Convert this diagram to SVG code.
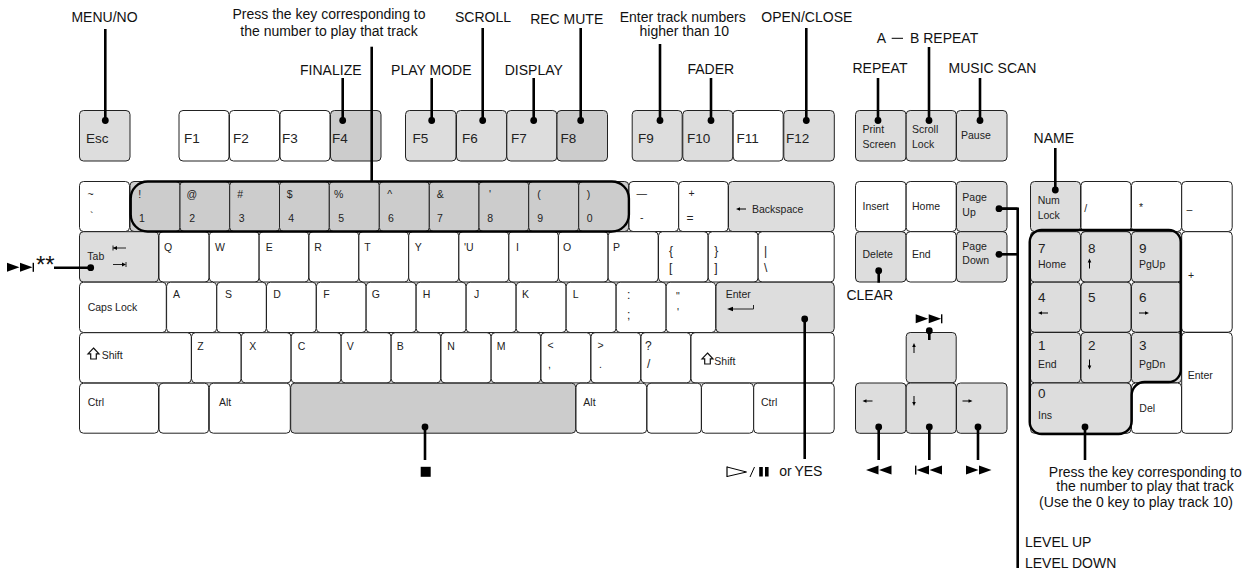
<svg xmlns="http://www.w3.org/2000/svg" width="1255" height="571" viewBox="0 0 1255 571">
<style>
text{font-family:"Liberation Sans",Arial,sans-serif;fill:#222}
.l{font-size:14px;fill:#111}
.c{text-anchor:middle}
.f{font-size:13.5px}
.k{font-size:10.5px}
.s{font-size:10.5px}
.b{font-size:12px}
.n{font-size:13.5px}
rect{stroke:#222;stroke-width:1}
.w{fill:#fff}.g{fill:#ddd}.d{fill:#ccc}
.lead{stroke:#000;stroke-width:2.6;fill:none;marker-end:url(#dot)}
.plain{stroke:#000;stroke-width:2.6;fill:none}
.out{stroke:#000;stroke-width:2.4;fill:none}
.ic{fill:#000;stroke:none}
.thin{stroke:#222;stroke-width:1;fill:none}
</style>
<defs>
<marker id="dot" markerUnits="userSpaceOnUse" markerWidth="8" markerHeight="8" refX="4" refY="4" orient="auto"><circle cx="4" cy="4" r="3.4" fill="#000"/></marker>
<path id="left" d="M0 0l4-1.8v1.3h6v1h-6v1.3z" class="ic"/>
<path id="right" d="M10 0l-4-1.8v1.3h-6v1h6v1.3z" class="ic"/>
<path id="up" d="M0 0l-1.8 4h1.3v6h1v-6h1.3z" class="ic"/>
<path id="down" d="M0 10l-1.8-4h1.3v-6h1v6h1.3z" class="ic"/>
<path id="shift" d="M5.5 0L11 5.8H8.3V11H2.7V5.8H0z" fill="#fff" stroke="#111" stroke-width="1.2"/>
<path id="ff" d="M0 0l12.5 4.5L0 9zM13 0l12.5 4.5L13 9z" class="ic"/>
<path id="rw" d="M12.5 0L0 4.5l12.5 4.5zM25.5 0L13 4.5l12.5 4.5z" class="ic"/>
</defs>

<g id="fn-row">
<g id="k-esc"><rect class="g" x="79.5" y="110.5" width="50.5" height="50.5" rx="4"/><text class="f" x="86" y="143">Esc</text></g>
<g id="k-f1"><rect class="w" x="179" y="110.5" width="50" height="50.5" rx="4"/><text class="f" x="184" y="143">F1</text></g>
<g id="k-f2"><rect class="w" x="229.5" y="110.5" width="50" height="50.5" rx="4"/><text class="f" x="233" y="143">F2</text></g>
<g id="k-f3"><rect class="w" x="280" y="110.5" width="50" height="50.5" rx="4"/><text class="f" x="282" y="143">F3</text></g>
<g id="k-f4"><rect class="d" x="330.5" y="110.5" width="50.5" height="50.5" rx="4"/><text class="f" x="332" y="143">F4</text></g>
<g id="k-f5"><rect class="g" x="405.5" y="110.5" width="50.5" height="50.5" rx="4"/><text class="f" x="412.5" y="143">F5</text></g>
<g id="k-f6"><rect class="g" x="456.5" y="110.5" width="50" height="50.5" rx="4"/><text class="f" x="462" y="143">F6</text></g>
<g id="k-f7"><rect class="g" x="506.8" y="110.5" width="50" height="50.5" rx="4"/><text class="f" x="511" y="143">F7</text></g>
<g id="k-f8"><rect class="d" x="557" y="110.5" width="50.5" height="50.5" rx="4"/><text class="f" x="560.5" y="143">F8</text></g>
<g id="k-f9"><rect class="g" x="632.2" y="110.5" width="50" height="50.5" rx="4"/><text class="f" x="638" y="143">F9</text></g>
<g id="k-f10"><rect class="g" x="682.8" y="110.5" width="50" height="50.5" rx="4"/><text class="f" x="687" y="143">F10</text></g>
<g id="k-f11"><rect class="w" x="733.2" y="110.5" width="50" height="50.5" rx="4"/><text class="f" x="736.5" y="143">F11</text></g>
<g id="k-f12"><rect class="g" x="783.8" y="110.5" width="50.5" height="50.5" rx="4"/><text class="f" x="786" y="143">F12</text></g>
<g id="k-prt"><rect class="g" x="855.5" y="110.5" width="50.5" height="50.5" rx="4"/><text class="s" x="862.5" y="132.5">Print</text><text class="s" x="862.5" y="148">Screen</text></g>
<g id="k-scr"><rect class="g" x="906.2" y="110.5" width="50" height="50.5" rx="4"/><text class="s" x="912" y="132.5">Scroll</text><text class="s" x="912" y="148">Lock</text></g>
<g id="k-pause"><rect class="g" x="956.5" y="110.5" width="50.5" height="50.5" rx="4"/><text class="s" x="961" y="139">Pause</text></g>
</g>

<g id="row1">
<g id="k-tilde"><rect class="w" x="79.5" y="181.5" width="50" height="50" rx="4"/><text class="s" x="87.5" y="198">~</text><text class="s" x="90" y="220">`</text></g>
<g id="k-1"><rect class="d" x="130" y="181.5" width="50" height="50" rx="4"/><text class="s" x="138.3" y="198">!</text><text class="s" x="139" y="221.5">1</text></g>
<g id="k-2"><rect class="d" x="180" y="181.5" width="49.7" height="50" rx="4"/><text class="s" x="186.5" y="198">@</text><text class="s" x="189.3" y="221.5">2</text></g>
<g id="k-3"><rect class="d" x="229.7" y="181.5" width="49.8" height="50" rx="4"/><text class="s" x="237.3" y="198">#</text><text class="s" x="238.7" y="221.5">3</text></g>
<g id="k-4"><rect class="d" x="279.5" y="181.5" width="49.8" height="50" rx="4"/><text class="s" x="286.7" y="198">$</text><text class="s" x="288.3" y="221.5">4</text></g>
<g id="k-5"><rect class="d" x="329.3" y="181.5" width="50" height="50" rx="4"/><text class="s" x="334" y="198">%</text><text class="s" x="338.3" y="221.5">5</text></g>
<g id="k-6"><rect class="d" x="379.3" y="181.5" width="50" height="50" rx="4"/><text class="s" x="387.3" y="198">^</text><text class="s" x="388" y="221.5">6</text></g>
<g id="k-7"><rect class="d" x="429.3" y="181.5" width="49.7" height="50" rx="4"/><text class="s" x="436.7" y="198">&amp;</text><text class="s" x="437" y="221.5">7</text></g>
<g id="k-8"><rect class="d" x="479" y="181.5" width="49.7" height="50" rx="4"/><text class="s" x="489" y="198">'</text><text class="s" x="487.3" y="221.5">8</text></g>
<g id="k-9"><rect class="d" x="528.7" y="181.5" width="50" height="50" rx="4"/><text class="s" x="537.3" y="198">(</text><text class="s" x="537.3" y="221.5">9</text></g>
<g id="k-0"><rect class="d" x="578.7" y="181.5" width="50" height="50" rx="4"/><text class="s" x="586.7" y="198">)</text><text class="s" x="586.7" y="221.5">0</text></g>
<g id="k-minus"><rect class="w" x="629" y="181.5" width="49.5" height="50" rx="4"/><text class="k" x="636.5" y="197">—</text><text class="s" x="640" y="221">-</text></g>
<g id="k-eq"><rect class="w" x="678.7" y="181.5" width="49.5" height="50" rx="4"/><text class="k" x="688.5" y="197">+</text><text class="b" x="686.5" y="222">=</text></g>
<g id="k-back"><rect class="g" x="728.5" y="181.5" width="105.8" height="50" rx="4"/><use href="#left" x="736" y="209"/><text class="s" x="752" y="213">Backspace</text></g>
</g>

<g id="row2">
<g id="k-tab"><rect class="g" x="79.5" y="231.7" width="79" height="50.3" rx="4"/><text class="s" x="87.3" y="260">Tab</text><path class="thin" d="M113 248h13M113 245.5v5"/><path class="ic" d="M113 248l4-2v4z"/><path class="thin" d="M113 264.5h12M126 262v5"/><path class="ic" d="M126 264.5l-4-2v4z"/></g>
<g id="k-q"><rect class="w" x="159" y="231.7" width="50" height="50.3" rx="4"/><text class="k" x="164" y="251">Q</text></g>
<g id="k-w"><rect class="w" x="209.3" y="231.7" width="49.7" height="50.3" rx="4"/><text class="k" x="215" y="251">W</text></g>
<g id="k-e"><rect class="w" x="259.2" y="231.7" width="49.5" height="50.3" rx="4"/><text class="k" x="265.7" y="251">E</text></g>
<g id="k-r"><rect class="w" x="309" y="231.7" width="49.7" height="50.3" rx="4"/><text class="k" x="314.3" y="251">R</text></g>
<g id="k-t"><rect class="w" x="358.9" y="231.7" width="49.6" height="50.3" rx="4"/><text class="k" x="364.3" y="251">T</text></g>
<g id="k-y"><rect class="w" x="408.7" y="231.7" width="50" height="50.3" rx="4"/><text class="k" x="414.7" y="251">Y</text></g>
<g id="k-u"><rect class="w" x="458.9" y="231.7" width="49.8" height="50.3" rx="4"/><text class="k" x="464" y="251">'U</text></g>
<g id="k-i"><rect class="w" x="508.9" y="231.7" width="49.4" height="50.3" rx="4"/><text class="k" x="516" y="251">I</text></g>
<g id="k-o"><rect class="w" x="558.5" y="231.7" width="49.5" height="50.3" rx="4"/><text class="k" x="563" y="251">O</text></g>
<g id="k-p"><rect class="w" x="608.2" y="231.7" width="50" height="50.3" rx="4"/><text class="k" x="613" y="251">P</text></g>
<g id="k-lb"><rect class="w" x="658.5" y="231.7" width="49.5" height="50.3" rx="4"/><text class="b" x="669" y="255">{</text><text class="b" x="669" y="272">[</text></g>
<g id="k-rb"><rect class="w" x="708.3" y="231.7" width="49.7" height="50.3" rx="4"/><text class="b" x="714.3" y="255">}</text><text class="b" x="714.3" y="272">]</text></g>
<g id="k-bs"><rect class="w" x="758.2" y="231.7" width="76" height="50.3" rx="4"/><text class="b" x="764" y="255">|</text><text class="b" x="764" y="272">\</text></g>
</g>

<g id="row3">
<g id="k-caps"><rect class="w" x="79.5" y="282.2" width="86.8" height="50.3" rx="4"/><text class="s" x="87.7" y="311">Caps Lock</text></g>
<g id="k-a"><rect class="w" x="166.6" y="282.2" width="50" height="50.3" rx="4"/><text class="k" x="173" y="298">A</text></g>
<g id="k-s"><rect class="w" x="216.8" y="282.2" width="49.5" height="50.3" rx="4"/><text class="k" x="225" y="298">S</text></g>
<g id="k-d"><rect class="w" x="266.5" y="282.2" width="49.7" height="50.3" rx="4"/><text class="k" x="273.3" y="298">D</text></g>
<g id="k-f"><rect class="w" x="316.4" y="282.2" width="49.6" height="50.3" rx="4"/><text class="k" x="323.3" y="298">F</text></g>
<g id="k-g"><rect class="w" x="366.2" y="282.2" width="49.8" height="50.3" rx="4"/><text class="k" x="371.7" y="298">G</text></g>
<g id="k-h"><rect class="w" x="416.2" y="282.2" width="49.8" height="50.3" rx="4"/><text class="k" x="422.7" y="298">H</text></g>
<g id="k-j"><rect class="w" x="466.2" y="282.2" width="49.8" height="50.3" rx="4"/><text class="k" x="474" y="298">J</text></g>
<g id="k-k"><rect class="w" x="516.2" y="282.2" width="49.8" height="50.3" rx="4"/><text class="k" x="522" y="298">K</text></g>
<g id="k-l"><rect class="w" x="566.2" y="282.2" width="49.8" height="50.3" rx="4"/><text class="k" x="572.7" y="298">L</text></g>
<g id="k-semi"><rect class="w" x="616.2" y="282.2" width="49.8" height="50.3" rx="4"/><text class="b" x="627" y="299">:</text><text class="b" x="627" y="319">;</text></g>
<g id="k-quote"><rect class="w" x="666.2" y="282.2" width="49.5" height="50.3" rx="4"/><text class="s" x="676" y="300">"</text><text class="s" x="677" y="316">'</text></g>
<g id="k-enter"><rect class="g" x="716" y="282.2" width="118.2" height="50.3" rx="4"/><text class="s" x="725.7" y="297.5">Enter</text><path class="thin" d="M730 309h23.5v-4"/><path class="ic" d="M727 309l6-2.2v4.4z"/></g>
</g>

<g id="row4">
<g id="k-lshift"><rect class="w" x="79.5" y="332.7" width="111.8" height="50.2" rx="4"/><use href="#shift" x="88" y="348"/><text class="s" x="101.7" y="359.3">Shift</text></g>
<g id="k-z"><rect class="w" x="191.5" y="332.7" width="49.6" height="50.2" rx="4"/><text class="k" x="197.3" y="350">Z</text></g>
<g id="k-x"><rect class="w" x="241.3" y="332.7" width="49.7" height="50.2" rx="4"/><text class="k" x="249.3" y="350">X</text></g>
<g id="k-c"><rect class="w" x="291.2" y="332.7" width="49.8" height="50.2" rx="4"/><text class="k" x="297.7" y="350">C</text></g>
<g id="k-v"><rect class="w" x="341.2" y="332.7" width="49.8" height="50.2" rx="4"/><text class="k" x="346.7" y="350">V</text></g>
<g id="k-b"><rect class="w" x="391.2" y="332.7" width="49.5" height="50.2" rx="4"/><text class="k" x="396.7" y="350">B</text></g>
<g id="k-n"><rect class="w" x="441" y="332.7" width="50" height="50.2" rx="4"/><text class="k" x="447.3" y="350">N</text></g>
<g id="k-m"><rect class="w" x="491.2" y="332.7" width="49.5" height="50.2" rx="4"/><text class="k" x="496.7" y="350">M</text></g>
<g id="k-lt"><rect class="w" x="541" y="332.7" width="49.7" height="50.2" rx="4"/><text class="k" x="547.5" y="349">&lt;</text><text class="s" x="548" y="368">,</text></g>
<g id="k-gt"><rect class="w" x="591" y="332.7" width="49.7" height="50.2" rx="4"/><text class="k" x="597.5" y="349">&gt;</text><text class="s" x="599" y="368">.</text></g>
<g id="k-slash"><rect class="w" x="641" y="332.7" width="49.7" height="50.2" rx="4"/><text class="b" x="645" y="350">?</text><text class="b" x="647" y="368">/</text></g>
<g id="k-rshift"><rect class="w" x="691" y="332.7" width="143.2" height="50.2" rx="4"/><use href="#shift" x="702" y="353"/><text class="s" x="714.3" y="365">Shift</text></g>
</g>

<g id="row5">
<g id="k-lctrl"><rect class="w" x="79.5" y="383.2" width="79" height="50" rx="4"/><text class="s" x="87.7" y="406">Ctrl</text></g>
<g id="k-lwin"><rect class="w" x="159" y="383.2" width="49.7" height="50" rx="4"/></g>
<g id="k-lalt"><rect class="w" x="209.3" y="383.2" width="81" height="50" rx="4"/><text class="s" x="219" y="406">Alt</text></g>
<g id="k-space"><rect class="d" x="290.7" y="383.2" width="285" height="50" rx="4"/></g>
<g id="k-ralt"><rect class="w" x="576" y="383.2" width="70.7" height="50" rx="4"/><text class="s" x="583.3" y="406">Alt</text></g>
<g id="k-rwin"><rect class="w" x="647" y="383.2" width="54.3" height="50" rx="4"/></g>
<g id="k-menu"><rect class="w" x="701.5" y="383.2" width="52" height="50" rx="4"/></g>
<g id="k-rctrl"><rect class="w" x="753.7" y="383.2" width="80.5" height="50" rx="4"/><text class="s" x="761" y="406">Ctrl</text></g>
</g>

<g id="nav">
<g id="k-ins"><rect class="w" x="855.5" y="181.5" width="50.5" height="50" rx="4"/><text class="s" x="862.5" y="210">Insert</text></g>
<g id="k-home"><rect class="w" x="906.2" y="181.5" width="50" height="50" rx="4"/><text class="s" x="912" y="210">Home</text></g>
<g id="k-pgup"><rect class="g" x="956.5" y="181.5" width="50.5" height="50" rx="4"/><text class="s" x="962.3" y="201">Page</text><text class="s" x="962.3" y="215.5">Up</text></g>
<g id="k-del"><rect class="g" x="855.5" y="231.7" width="50.5" height="50.3" rx="4"/><text class="s" x="862.5" y="258">Delete</text></g>
<g id="k-end"><rect class="w" x="906.2" y="231.7" width="50" height="50.3" rx="4"/><text class="s" x="912" y="258">End</text></g>
<g id="k-pgdn"><rect class="g" x="956.5" y="231.7" width="50.5" height="50.3" rx="4"/><text class="s" x="962.3" y="250">Page</text><text class="s" x="962.3" y="263.5">Down</text></g>
<g id="k-aup"><rect class="g" x="906.2" y="332.5" width="50" height="50.3" rx="4"/><use href="#up" x="914" y="343"/></g>
<g id="k-aleft"><rect class="g" x="855.5" y="383" width="50.5" height="50.3" rx="4"/><use href="#left" x="862.5" y="401"/></g>
<g id="k-adown"><rect class="g" x="906.2" y="383" width="50" height="50.3" rx="4"/><use href="#down" x="914" y="396"/></g>
<g id="k-aright"><rect class="g" x="956.5" y="383" width="50.5" height="50.3" rx="4"/><use href="#right" x="962.5" y="401"/></g>
</g>

<g id="numpad">
<g id="k-num"><rect class="g" x="1030.5" y="181.5" width="50" height="50" rx="4"/><text class="s" x="1037.7" y="204">Num</text><text class="s" x="1037.7" y="219">Lock</text></g>
<g id="k-ndiv"><rect class="w" x="1081" y="181.5" width="50" height="50" rx="4"/><text class="s" x="1084.3" y="212">/</text></g>
<g id="k-nmul"><rect class="w" x="1131.5" y="181.5" width="50" height="50" rx="4"/><text class="s" x="1139" y="211">*</text></g>
<g id="k-nsub"><rect class="w" x="1181.7" y="181.5" width="50.5" height="50" rx="4"/><text class="s" x="1186.5" y="213">–</text></g>
<g id="k-n7"><rect class="g" x="1030.5" y="231.7" width="50" height="50.3" rx="4"/><text class="n" x="1038" y="252.7">7</text><text class="s" x="1038" y="268">Home</text></g>
<g id="k-n8"><rect class="g" x="1081" y="231.7" width="50" height="50.3" rx="4"/><text class="n" x="1088" y="252.7">8</text><use href="#up" x="1089.5" y="258.5"/></g>
<g id="k-n9"><rect class="g" x="1131.5" y="231.7" width="50" height="50.3" rx="4"/><text class="n" x="1139" y="252.7">9</text><text class="s" x="1139" y="267.5">PgUp</text></g>
<g id="k-n4"><rect class="g" x="1030.5" y="282.2" width="50" height="50" rx="4"/><text class="n" x="1038" y="301.7">4</text><use href="#left" x="1038" y="313"/></g>
<g id="k-n5"><rect class="g" x="1081" y="282.2" width="50" height="50" rx="4"/><text class="n" x="1088" y="301.7">5</text></g>
<g id="k-n6"><rect class="g" x="1131.5" y="282.2" width="50" height="50" rx="4"/><text class="n" x="1139" y="301.7">6</text><use href="#right" x="1139" y="313"/></g>
<g id="k-n1"><rect class="g" x="1030.5" y="332.5" width="50" height="50.3" rx="4"/><text class="n" x="1038" y="349.5">1</text><text class="s" x="1038" y="368">End</text></g>
<g id="k-n2"><rect class="g" x="1081" y="332.5" width="50" height="50.3" rx="4"/><text class="n" x="1088" y="349.5">2</text><use href="#down" x="1089.5" y="359.5"/></g>
<g id="k-n3"><rect class="g" x="1131.5" y="332.5" width="50" height="50.3" rx="4"/><text class="n" x="1139" y="349.5">3</text><text class="s" x="1139" y="368">PgDn</text></g>
<g id="k-nplus"><rect class="w" x="1181.7" y="231.7" width="50.5" height="100.5" rx="4"/><text class="s" x="1188" y="279">+</text></g>
<g id="k-nenter"><rect class="w" x="1181.7" y="332.5" width="50.5" height="100.8" rx="4"/><text class="s" x="1187.7" y="379.3">Enter</text></g>
<g id="k-n0"><rect class="g" x="1030.5" y="383" width="100.5" height="50.3" rx="4"/><text class="n" x="1038" y="398">0</text><text class="s" x="1038" y="419">Ins</text></g>
<g id="k-ndel"><rect class="w" x="1131.5" y="383" width="50" height="50.3" rx="4"/><text class="s" x="1139.3" y="411.7">Del</text></g>
</g>

<g id="connectors">
<rect x="130.7" y="181.5" width="498.2" height="50" rx="17" class="out"/>
<path class="out" d="M1029.7 242a12 12 0 0 1 12-12h127a12 12 0 0 1 12 12v128a12 12 0 0 1-12 12h-24a13 13 0 0 0-13 13v26a13 13 0 0 1-13 13h-77a12 12 0 0 1-12-12z"/>
<path class="lead" d="M105.3 29V120.5"/>
<path class="plain" d="M371.7 46.7V181"/>
<path class="lead" d="M342.7 78V120.5"/>
<path class="lead" d="M431.7 78V120.5"/>
<path class="lead" d="M482.7 28V120.5"/>
<path class="lead" d="M533.7 78V120.5"/>
<path class="lead" d="M580.7 28V120.5"/>
<path class="lead" d="M660 44V120.5"/>
<path class="lead" d="M711 78V120.5"/>
<path class="lead" d="M806.3 28V120.5"/>
<path class="lead" d="M878 78V120.5"/>
<path class="lead" d="M929 47V120.5"/>
<path class="lead" d="M980 78V120.5"/>
<path class="lead" d="M1055.3 148V190"/>
<path class="lead" d="M54 267.7H90.7"/>
<path class="lead" d="M878.7 282.7V270.7"/>
<path class="lead" d="M929.3 340V330.7"/>
<path class="lead" d="M425 460V427"/>
<path class="lead" d="M804.7 459V319"/>
<path class="lead" d="M878.7 460V427"/>
<path class="lead" d="M929.3 460V427"/>
<path class="lead" d="M978 460V427"/>
<path class="lead" d="M1085 460V427"/>
<path class="plain" d="M1017.7 568V208.7H1002"/>
<path class="lead" d="M1017.7 208.7H999"/>
<path class="lead" d="M1017.7 254.3H999"/>
</g>

<g id="labels">
<text class="l c" x="104.5" y="22">MENU/NO</text>
<text class="l c" x="329" y="18.5">Press the key corresponding to</text>
<text class="l c" x="329" y="36">the number to play that track</text>
<text class="l c" x="330.8" y="75">FINALIZE</text>
<text class="l c" x="431.3" y="75">PLAY MODE</text>
<text class="l c" x="483" y="22">SCROLL</text>
<text class="l c" x="533.8" y="75">DISPLAY</text>
<text class="l c" x="566.7" y="24">REC MUTE</text>
<text class="l c" x="682.7" y="21.7">Enter track numbers</text>
<text class="l c" x="684.3" y="36">higher than 10</text>
<text class="l c" x="710.8" y="74">FADER</text>
<text class="l c" x="806.8" y="22">OPEN/CLOSE</text>
<text class="l" x="876.7" y="43.3">A</text><path class="plain" style="stroke-width:1" d="M891.7 38.3H903"/><text class="l" x="910" y="43.3">B REPEAT</text>
<text class="l c" x="880" y="73.3">REPEAT</text>
<text class="l c" x="992.5" y="73.3">MUSIC SCAN</text>
<text class="l c" x="1053.8" y="143.3">NAME</text>
<text class="l c" x="869.8" y="300">CLEAR</text>
<text class="l c" x="1145.3" y="476.7">Press the key corresponding to</text>
<text class="l c" x="1145" y="491">the number to play that track</text>
<text class="l c" x="1136" y="506.7">(Use the 0 key to play track 10)</text>
<text class="l" x="1025" y="546.7">LEVEL UP</text>
<text class="l" x="1025" y="568">LEVEL DOWN</text>
<text class="l" x="779.3" y="476" style="word-spacing:-1px">or YES</text>
<text class="l" x="36" y="272.5" style="font-size:24px">**</text>
</g>

<g id="icons">
<use href="#ff" x="7" y="262.8"/><rect class="ic" x="32.6" y="262.8" width="1.4" height="9"/>
<use href="#ff" x="915.7" y="314.3"/><rect class="ic" x="941" y="314.3" width="1.4" height="9"/>
<use href="#rw" x="866" y="465.6"/>
<use href="#rw" x="916.5" y="465.6"/><rect class="ic" x="915" y="465.6" width="1.4" height="9"/>
<use href="#ff" x="966" y="465.6"/>
<rect class="ic" x="420.7" y="466.8" width="10" height="10"/>
<path d="M727 467L746.5 472L727 476.5" fill="none" stroke="#000" stroke-width="1"/><path d="M727 466.5V477" stroke="#000" stroke-width="1.2" fill="none"/>
<path d="M750 477L754.5 467" stroke="#000" stroke-width="1" fill="none"/>
<rect class="ic" x="759.2" y="467" width="3.6" height="9.5"/><rect class="ic" x="765" y="467" width="3.6" height="9.5"/>
</g>
</svg>
